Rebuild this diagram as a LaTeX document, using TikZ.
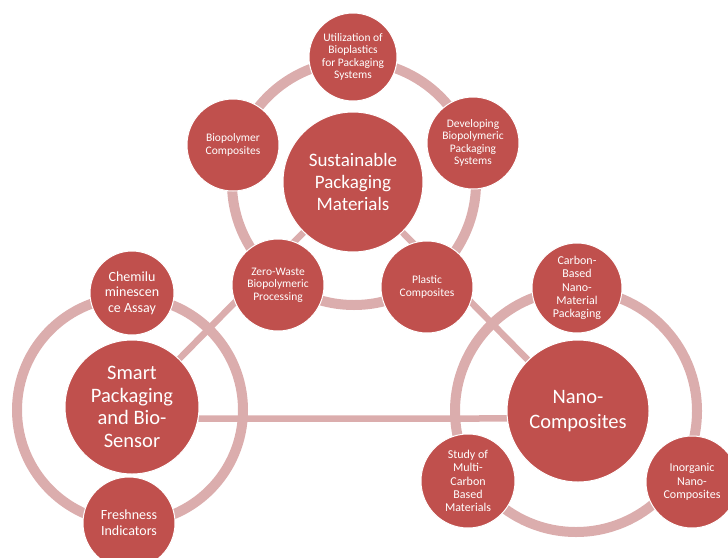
\documentclass[tikz,border=0pt]{standalone}
\usepackage{fontspec}
\setmainfont{Carlito}
\usetikzlibrary{backgrounds}
\definecolor{nodered}{HTML}{C0504D}
\definecolor{ringpink}{HTML}{DBADAD}

\begin{document}
\begin{tikzpicture}[x=1pt, y=-1pt,
    bubble/.style={circle, fill=nodered, draw=white, line width=1pt, text=white, align=center, inner sep=0pt},
    hub/.style={bubble, minimum size=140pt},
    leaf/.style={bubble, minimum size=92pt},
    ring/.style={draw=ringpink, line width=10pt},
    link/.style={draw=ringpink, line width=6.5pt},
    topfont/.style={font=\fontsize{11.5}{12.6}\selectfont},
    leftfont/.style={font=\fontsize{14}{15.7}\selectfont},
    rightfont/.style={font=\fontsize{12}{13.3}\selectfont}]
  \useasboundingbox (0,0) rectangle (728,557);

  % Ring centres
  \coordinate (sustring) at (354,183);
  \coordinate (smartring) at (130,410);
  \coordinate (nanoring) at (576,411);

  % Sustainable packaging group
  \node[hub, font=\fontsize{19}{21.7}\selectfont] (sust) at (353,182) {Sustainable\\Packaging\\Materials};
  \node[leaf, topfont, minimum size=88pt] (util) at (353,57) {Utilization of\\Bioplastics\\for Packaging\\Systems};
  \node[leaf, topfont] (devel) at (473,143) {Developing\\Biopolymeric\\Packaging\\Systems};
  \node[leaf, topfont] (biopoly) at (233,145) {Biopolymer\\Composites};
  \node[leaf, topfont] (zero) at (278,285) {Zero-Waste\\Biopolymeric\\Processing};
  \node[leaf, topfont] (plastic) at (427,287) {Plastic\\Composites};

  % Smart packaging group
  \node[hub, minimum size=134pt, font=\fontsize{20.5}{22.7}\selectfont] (smart) at (132,407) {Smart\\Packaging\\and Bio-\\Sensor};
  \node[leaf, leftfont, minimum size=84pt] (chemi) at (132,293) {Chemilu\\minescen\\ce Assay};
  \node[leaf, leftfont] (fresh) at (129,523) {Freshness\\Indicators};

  % Nano-composites group
  \node[hub, minimum size=142pt, font=\fontsize{20.5}{25}\selectfont] (nano) at (578,411) {Nano-\\Composites};
  \node[leaf, rightfont, minimum size=90pt] (carbon) at (577,288) {Carbon-\\Based\\Nano-\\Material\\Packaging};
  \node[leaf, rightfont, minimum size=94pt] (study) at (468,481) {Study of\\Multi-\\Carbon\\Based\\Materials};
  \node[leaf, rightfont] (inorg) at (692,482) {Inorganic\\Nano-\\Composites};

  % Rings and links behind the bubbles
  \begin{scope}[on background layer]
    \draw[ring] (sustring) circle (122pt);
    \draw[ring] (smartring) circle (113pt);
    \draw[ring] (nanoring) circle (121pt);
    \draw[link] (sust) -- (smart);
    \draw[link] (sust) -- (nano);
    \draw[link] (smart.-10) -- (nano.186);
  \end{scope}
\end{tikzpicture}
\end{document}
